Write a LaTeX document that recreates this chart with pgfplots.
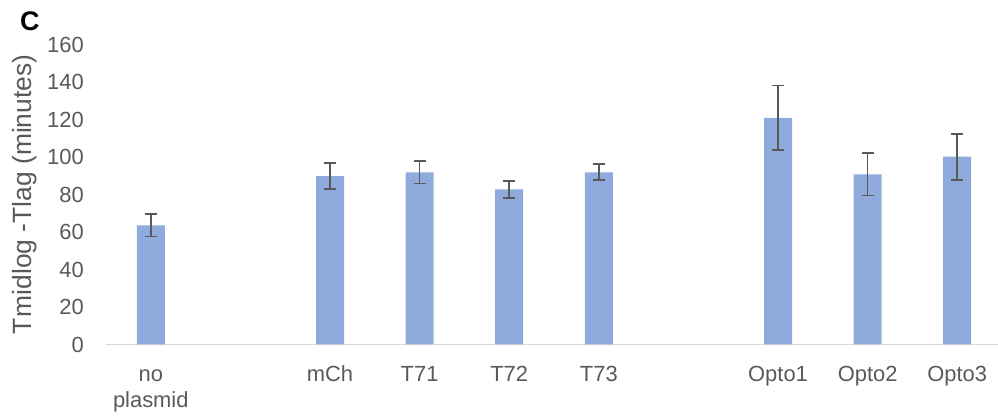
\documentclass[border=0pt]{standalone}
\usepackage{fontspec}
\setmainfont{Liberation Sans}
\usepackage{pgfplots}
\pgfplotsset{compat=1.18}
\definecolor{barblue}{HTML}{8FAADC}
\definecolor{txtgray}{HTML}{595959}
\definecolor{axgray}{HTML}{D9D9D9}
\pgfplotstableread{
x y e
0 63.7 6.0
2 89.9 6.9
3 92.0 6.0
4 82.9 4.5
5 92.0 4.3
7 121.1 17.3
8 90.9 11.3
9 100.3 12.3
}\growthdata
\begin{document}
\begin{tikzpicture}
\begin{axis}[
  scale only axis, width=892bp, height=299.5bp,
  xmin=-0.5, xmax=9.455, ymin=0, ymax=160,
  axis x line*=bottom, axis y line*=left,
  x axis line style={draw=axgray, line width=1.4bp, -},
  y axis line style={draw=none},
  ytick={0,20,...,160},
  xtick={0,2,3,4,5,7,8,9},
  xticklabels={no,mCh,T71,T72,T73,Opto1,Opto2,Opto3},
  % second line of the first category label
  extra x ticks={0},
  extra x tick labels={plasmid},
  extra x tick style={xticklabel style={yshift=-26bp}},
  major tick length=0,
  tick label style={font=\fontsize{22}{26}\selectfont, text=txtgray, inner sep=0},
  yticklabel style={xshift=-22bp},
  xticklabel style={anchor=north, text height=16bp, text depth=5bp, yshift=-21.2bp},
  /pgf/number format/assume math mode=true,
]
\addplot[ybar, bar width=28bp, fill=barblue, draw=none,
  error bars/.cd, y dir=both, y explicit, error mark=|,
  error bar style={line width=1.7bp, txtgray},
  error mark options={mark size=6bp, line width=1.7bp, txtgray}]
  table[x=x, y=y, y error=e]{\growthdata};
\end{axis}
% panel letter and axis title
\node[anchor=base west, inner sep=0, font=\fontsize{27}{30}\selectfont\bfseries]
  at ([shift={(-86bp,14.5bp)}]current axis.north west) {C};
\node[rotate=90, anchor=base, inner sep=0, text=txtgray, font=\fontsize{26.5}{30}\selectfont]
  at ([xshift=-74.5bp]current axis.west) {T\kern1.5bp midlog -Tlag (minutes)};
\pgfresetboundingbox
\path ([shift={(-106bp,-71.5bp)}]current axis.south west) rectangle ([shift={(0bp,45bp)}]current axis.north east);
\end{tikzpicture}
\end{document}
